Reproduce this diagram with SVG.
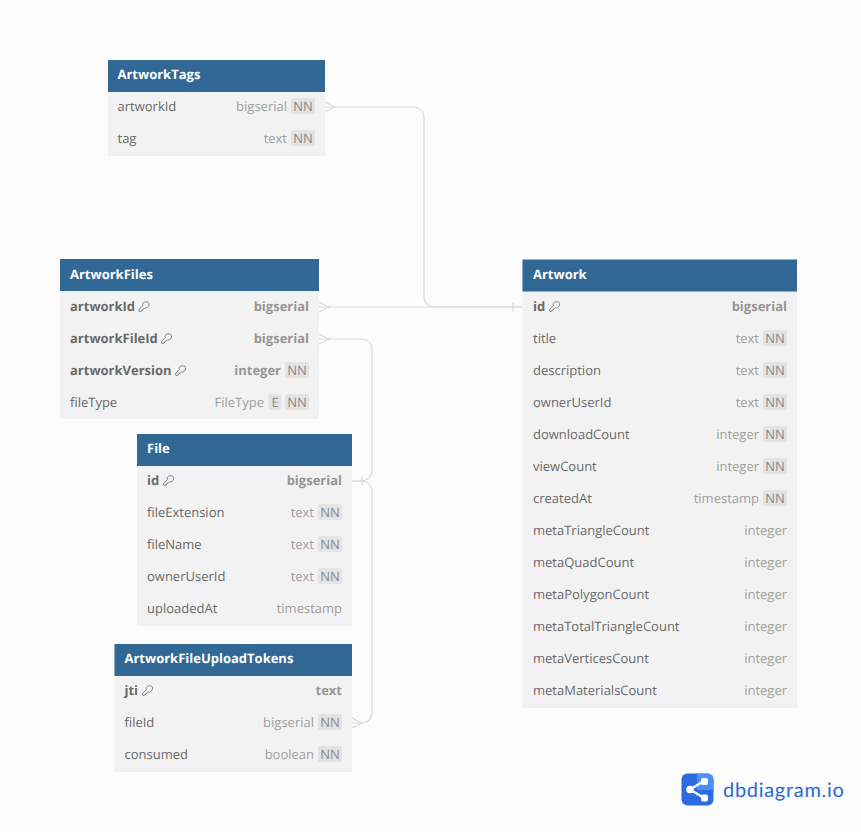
<svg xmlns="http://www.w3.org/2000/svg" width="861" height="832" viewBox="0 0 861 832">
<style>
text{font-family:"Open Sans","Noto Sans",sans-serif;font-size:13px;text-rendering:geometricPrecision;opacity:.999}
.bg{fill:#f2f2f2}
.hd{fill:#316896}
.t{fill:#fff;font-weight:700}
.n{fill:#6a6a6a}
.b{font-weight:700}
.ty{fill:#a0a0a0;text-anchor:end}
.ty.b{fill:#969696}
.bd{fill:#e3e3e3}
.bt{fill:#8a8a8a;text-anchor:middle}
.c{fill:none;stroke:#d9d9d9;stroke-width:1.2}
.k{fill:none;stroke:#7a7a7a;stroke-width:.9}
</style>
<defs>
<g id="key"><path class="k" d="M4.300 2.400C5.500 .6 8.300 .2 9.800 1.300C11.300 2.500 10.700 5.300 8.800 6.500C8 7 7.200 7.100 6.500 6.800L5.300 8L4.300 8L4.300 9L3.300 9L3.300 10L1 10.600L.5 10L.8 8L4.500 4.700C4.100 3.900 4 3 4.300 2.400Z"/></g>
<g id="nn"><rect x="-24" y="-8" width="24" height="16" rx="2" class="bd"/><text x="-12" y="5" class="bt">NN</text></g>
</defs>
<rect width="861" height="832" fill="#fcfcfc"/>
<g id="connectors">
<path class="c" d="M325 107H412Q424 107 424 119V295Q424 307 436 307H522"/>
<path class="c" d="M319 307H522M513 302.500V311.500"/>
<path class="c" d="M325 102L335 107L325 112M319 302L329 307L319 312"/>
<path class="c" d="M319 339H360Q372 339 372 351V469Q372 481 360 481H352"/>
<path class="c" d="M352 481H360Q372 481 372 493V711Q372 723 360 723H352"/>
<path class="c" d="M319 334L329 339L319 344M352 718L362 723L352 728M362 476.500V485.500"/>
</g>
<g id="ArtworkTags">
<rect x="108" y="60" width="217" height="96" class="bg"/><rect x="108" y="60" width="217" height="32" class="hd"/>
<text x="117.500" y="79" class="t">ArtworkTags</text>
<text x="117.500" y="111" class="n">artworkId</text><text x="287" y="111" class="ty">bigserial</text><use href="#nn" x="315" y="106"/>
<text x="117.500" y="143" class="n">tag</text><text x="287" y="143" class="ty">text</text><use href="#nn" x="315" y="138"/>
</g>
<g id="ArtworkFiles">
<rect x="60" y="259" width="259" height="160" class="bg"/><rect x="60" y="259" width="259" height="32" class="hd"/>
<text x="70" y="279" class="t">ArtworkFiles</text>
<text x="70" y="311" class="n b">artworkId</text><use href="#key" x="138.500" y="301"/><text x="309" y="311" class="ty b">bigserial</text>
<text x="70" y="343" class="n b">artworkFileId</text><use href="#key" x="161" y="333"/><text x="309" y="343" class="ty b">bigserial</text>
<text x="70" y="375" class="n b">artworkVersion</text><use href="#key" x="175" y="365"/><text x="281" y="375" class="ty b">integer</text><use href="#nn" x="309" y="370"/>
<text x="70" y="407" class="n">fileType</text><text x="264" y="407" class="ty">FileType</text><rect x="268.500" y="394" width="13" height="16" rx="2" class="bd"/><text x="275" y="407" class="bt">E</text><use href="#nn" x="309" y="402"/>
</g>
<g id="File">
<rect x="137" y="434" width="215" height="192" class="bg"/><rect x="137" y="434" width="215" height="32" class="hd"/>
<text x="147" y="453" class="t">File</text>
<text x="147" y="485" class="n b">id</text><use href="#key" x="163" y="475"/><text x="342" y="485" class="ty b">bigserial</text>
<text x="147" y="517" class="n">fileExtension</text><text x="314" y="517" class="ty">text</text><use href="#nn" x="342" y="512"/>
<text x="147" y="549" class="n">fileName</text><text x="314" y="549" class="ty">text</text><use href="#nn" x="342" y="544"/>
<text x="147" y="581" class="n">ownerUserId</text><text x="314" y="581" class="ty">text</text><use href="#nn" x="342" y="576"/>
<text x="147" y="613" class="n">uploadedAt</text><text x="342" y="613" class="ty">timestamp</text>
</g>
<g id="ArtworkFileUploadTokens">
<rect x="114.500" y="644" width="237.500" height="128" class="bg"/><rect x="114.500" y="644" width="237.500" height="32" class="hd"/>
<text x="124.500" y="663" class="t">ArtworkFileUploadTokens</text>
<text x="124.500" y="695" class="n b">jti</text><use href="#key" x="142" y="685"/><text x="342" y="695" class="ty b">text</text>
<text x="124.500" y="727" class="n">fileId</text><text x="314" y="727" class="ty">bigserial</text><use href="#nn" x="342" y="722"/>
<text x="124.500" y="759" class="n">consumed</text><text x="314" y="759" class="ty">boolean</text><use href="#nn" x="342" y="754"/>
</g>
<g id="Artwork">
<rect x="522.500" y="259.500" width="274.500" height="448.500" class="bg"/><rect x="522.500" y="259.500" width="274.500" height="32" class="hd"/>
<text x="533" y="279" class="t">Artwork</text>
<text x="533" y="311" class="n b">id</text><use href="#key" x="549" y="301"/><text x="787" y="311" class="ty b">bigserial</text>
<text x="533" y="343" class="n">title</text><text x="759" y="343" class="ty">text</text><use href="#nn" x="787" y="338"/>
<text x="533" y="375" class="n">description</text><text x="759" y="375" class="ty">text</text><use href="#nn" x="787" y="370"/>
<text x="533" y="407" class="n">ownerUserId</text><text x="759" y="407" class="ty">text</text><use href="#nn" x="787" y="402"/>
<text x="533" y="439" class="n">downloadCount</text><text x="759" y="439" class="ty">integer</text><use href="#nn" x="787" y="434"/>
<text x="533" y="471" class="n">viewCount</text><text x="759" y="471" class="ty">integer</text><use href="#nn" x="787" y="466"/>
<text x="533" y="503" class="n">createdAt</text><text x="759" y="503" class="ty">timestamp</text><use href="#nn" x="787" y="498"/>
<text x="533" y="535" class="n">metaTriangleCount</text><text x="787" y="535" class="ty">integer</text>
<text x="533" y="567" class="n">metaQuadCount</text><text x="787" y="567" class="ty">integer</text>
<text x="533" y="599" class="n">metaPolygonCount</text><text x="787" y="599" class="ty">integer</text>
<text x="533" y="631" class="n">metaTotalTriangleCount</text><text x="787" y="631" class="ty">integer</text>
<text x="533" y="663" class="n">metaVerticesCount</text><text x="787" y="663" class="ty">integer</text>
<text x="533" y="695" class="n">metaMaterialsCount</text><text x="787" y="695" class="ty">integer</text>
</g>
<g id="logo">
<rect x="681.500" y="773.500" width="32" height="32" rx="6" fill="#2a6ce0"/>
<path d="M697 773.500H707.500a6 6 0 0 1 6 6V790H697Z" fill="#4a90f5"/>
<path d="M690 789.500L704 781M690 789.500L704 798" stroke="#fff" stroke-width="2.500" fill="none"/>
<circle cx="690" cy="789.500" r="3.800" fill="#fff"/><rect x="701" y="778" width="7" height="7" rx="2" fill="#fff"/><rect x="701" y="794.500" width="7" height="7" rx="2" fill="#fff"/>
<text x="723" y="797" style="font-size:20px;font-family:'Lato','Noto Sans',sans-serif;letter-spacing:.7px;fill:#2a6ad0">dbdiagram.io</text>
</g>
</svg>
